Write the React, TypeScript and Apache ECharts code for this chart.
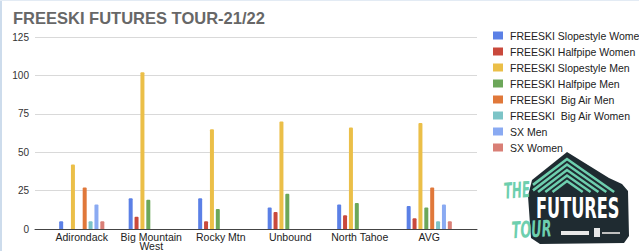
import React, { useEffect, useRef } from "react";
import * as echarts from "echarts";

const categories = ["Adirondack", "Big Mountain\nWest", "Rocky Mtn", "Unbound", "North Tahoe", "AVG"];
const seriesNames = [
  "FREESKI Slopestyle Women",
  "FREESKI Halfpipe Women",
  "FREESKI Slopestyle Men",
  "FREESKI Halfpipe Men",
  "FREESKI  Big Air Men",
  "FREESKI  Big Air Women",
  "SX Men",
  "SX Women",
];
const slopestyleWomen = [5, 20, 20, 14, 16, 15];
const halfpipeWomen = [null, 8, 5, 11, 9, 7];
const slopestyleMen = [42, 102, 65, 70, 66, 69];
const halfpipeMen = [null, 19, 13, 23, 17, 14];
const bigAirMen = [27, null, null, null, null, 27];
const bigAirWomen = [5, null, null, null, null, 5];
const sxMen = [16, null, null, null, null, 16];
const sxWomen = [5, null, null, null, null, 5];
const yTicks = [0, 25, 50, 75, 100, 125];

const seriesValues = [slopestyleWomen, halfpipeWomen, slopestyleMen, halfpipeMen, bigAirMen, bigAirWomen, sxMen, sxWomen];
const colors = ["#5b80e6", "#c9493c", "#ebbf48", "#6ca75a", "#e0783a", "#7cc4c7", "#8aaaf2", "#d97f76"];

const FONT = "Liberation Sans, Arial, sans-serif";
const TEAL = "#6dcfae";
const DARK = "#1f2b31";

function chevrons() {
  const els: any[] = [];
  for (let i = 0; i < 5; i++) {
    const ay = 159 + i * 5.5;
    const bottom = 192;
    const ldx = Math.min((bottom - ay) / 0.76, 567 - 533);
    const rdx = Math.min((bottom - ay) / 0.7, 622 - 567);
    els.push({
      type: "polyline",
      shape: { points: [[567 - ldx, ay + ldx * 0.76], [567, ay], [567 + rdx, ay + rdx * 0.7]] },
      style: { stroke: TEAL, lineWidth: 2.6, fill: null },
    });
  }
  return els;
}

export default function App() {
  const ref = useRef<HTMLDivElement>(null);
  useEffect(() => {
    const chart = echarts.init(ref.current!, null, { renderer: "svg" });
    chart.setOption({
      animation: false,
      color: colors,
      textStyle: { fontFamily: FONT },
      title: {
        text: "FREESKI FUTURES TOUR-21/22",
        left: 8,
        top: 4,
        textStyle: { fontSize: 16.5, fontWeight: "bold", color: "#676767", fontFamily: FONT },
      },
      legend: {
        orient: "vertical",
        left: 488,
        top: 25,
        itemWidth: 10,
        itemHeight: 8,
        itemGap: 5,
        icon: "rect",
        textStyle: { fontSize: 10.5, color: "#222", fontFamily: FONT, padding: [0, 0, 0, 2] },
        data: seriesNames,
      },
      grid: [
        { left: 35, right: 162, top: 37, bottom: 22, outerBoundsMode: "none" },
        { left: 47, right: 175, top: 37, bottom: 22, outerBoundsMode: "none" },
      ],
      xAxis: [
        {
          type: "category",
          gridIndex: 0,
          data: categories,
          axisLine: { show: true, lineStyle: { color: "#444", width: 1 } },
          axisTick: { show: false },
          axisLabel: { show: false },
        },
        {
          type: "category",
          gridIndex: 1,
          data: categories,
          axisLine: { show: false },
          axisTick: { show: false },
          axisLabel: { interval: 0, fontSize: 10.5, color: "#222", margin: 4, lineHeight: 8.5, fontFamily: FONT },
        },
      ],
      yAxis: [
        {
          type: "value",
          gridIndex: 0,
          min: yTicks[0],
          max: yTicks[yTicks.length - 1],
          interval: 25,
          axisLine: { show: false },
          axisTick: { show: false },
          axisLabel: { fontSize: 10, color: "#333", margin: 6, fontFamily: FONT },
          splitLine: { lineStyle: { color: "#d9d9d9", width: 1 } },
        },
        {
          type: "value",
          gridIndex: 1,
          min: yTicks[0],
          max: yTicks[yTicks.length - 1],
          interval: 25,
          show: false,
          splitLine: { show: false },
        },
      ],
      series: seriesNames.map((name, i) => ({
        name,
        type: "bar",
        xAxisIndex: 1,
        yAxisIndex: 1,
        data: seriesValues[i],
        barWidth: 4,
        barGap: "47%",
        itemStyle: { borderRadius: [1, 1, 0, 0] },
      })),
      graphic: [
        { type: "rect", shape: { x: 0, y: 0, width: 2, height: 251 }, style: { fill: "#cddcec" } },
        { type: "rect", shape: { x: 0, y: 0, width: 639, height: 1 }, style: { fill: "#e3ebf4" } },
        {
          type: "polygon",
          shape: {
            points: [
              [567, 152], [609, 178], [622, 184], [628, 191], [629, 236], [624, 243],
              [540, 244], [531, 238], [528, 196], [532, 180],
            ],
          },
          style: { fill: DARK },
        },
        ...chevrons(),
        {
          type: "text",
          x: 503, y: 180, rotation: 0.08,
          scaleX: 0.6,
          style: { text: "THE", fill: TEAL, fontSize: 22, fontWeight: "bold", fontStyle: "italic", fontFamily: "DejaVu Sans Condensed" },
        },
        {
          type: "text",
          x: 536, y: 194,
          scaleX: 0.62,
          style: { text: "FUTURES", fill: "#ffffff", fontSize: 29, fontWeight: "bold", fontFamily: "DejaVu Sans Condensed" },
        },
        {
          type: "text",
          x: 511, y: 219, rotation: 0.05,
          scaleX: 0.62,
          style: { text: "TOUR", fill: TEAL, fontSize: 23, fontWeight: "bold", fontStyle: "italic", fontFamily: "DejaVu Sans Condensed" },
        },
        { type: "rect", shape: { x: 561, y: 231, width: 28, height: 4 }, style: { fill: "#e8e8e8" } },
        { type: "rect", shape: { x: 594, y: 228, width: 6, height: 9 }, style: { fill: "#e8e8e8" } },
        { type: "rect", shape: { x: 602, y: 232, width: 18, height: 2 }, style: { fill: "#bfbfbf" } },
      ],
    });
    return () => chart.dispose();
  }, []);
  return <div ref={ref} style={{ position: "absolute", left: 0, top: 0, width: 639, height: 251 }} />;
}
